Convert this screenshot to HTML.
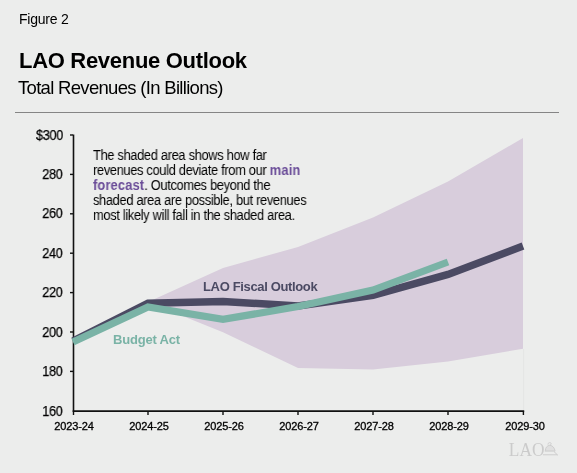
<!DOCTYPE html>
<html><head><meta charset="utf-8">
<style>
html,body{margin:0;padding:0;}
body{width:577px;height:473px;background:#ECEDEC;position:relative;overflow:hidden;font-family:"Liberation Sans",sans-serif;color:#000;}
.t{position:absolute;white-space:nowrap;line-height:1;will-change:transform;}
#fig{left:19px;top:12px;font-size:14px;letter-spacing:-0.22px;}
#title{left:18.5px;top:49.5px;font-size:22px;font-weight:bold;letter-spacing:-0.3px;}
#sub{left:18px;top:79px;font-size:18.5px;letter-spacing:-0.69px;}
#rule{position:absolute;left:15px;top:112px;width:544px;height:1px;background:#858585;}
svg{position:absolute;left:0;top:0;will-change:transform;}
.note{left:92.5px;top:147.9px;font-size:14px;line-height:15px;letter-spacing:-0.4px;word-spacing:0.2px;transform:scaleX(0.92);transform-origin:0 0;}
.note b{color:#6A4C98;letter-spacing:0.15px;}
.yl{position:absolute;will-change:transform;transform:scaleX(0.9);transform-origin:100% 50%;right:514.1px;-webkit-text-stroke:0.25px #000;font-size:14px;letter-spacing:-0.25px;line-height:1;text-align:right;}
.xl{position:absolute;will-change:transform;-webkit-text-stroke:0.3px #000;width:80px;font-size:11px;letter-spacing:-0.15px;line-height:1;text-align:center;}
.lab{position:absolute;will-change:transform;white-space:nowrap;font-weight:bold;font-size:13px;line-height:1;}
</style></head><body>
<div class="t" id="fig">Figure 2</div>
<div class="t" id="title">LAO Revenue Outlook</div>
<div class="t" id="sub">Total Revenues (In Billions)</div>
<div id="rule"></div>
<svg width="577" height="473" viewBox="0 0 577 473">
  <polygon fill="#D8CDDC" points="148,302 223,268 298,247 373,217.5 448,181.5 523,138 523,348.8 448,361.6 373,369.6 298,368 223,332.3 148,302"/>
  <line x1="523.6" y1="349" x2="523.6" y2="410" stroke="#E4E5E4" stroke-width="1"/>
  <g stroke="#111" stroke-width="1.6" fill="none">
    <line x1="73.5" y1="134.5" x2="73.5" y2="411.6"/>
    <line x1="72.7" y1="411.1" x2="524.2" y2="411.1"/>
  </g>
  <g stroke="#111" stroke-width="1.4">
    <line x1="70" y1="135" x2="73" y2="135"/>
    <line x1="70" y1="174.4" x2="73" y2="174.4"/>
    <line x1="70" y1="213.8" x2="73" y2="213.8"/>
    <line x1="70" y1="253.2" x2="73" y2="253.2"/>
    <line x1="70" y1="292.6" x2="73" y2="292.6"/>
    <line x1="70" y1="332" x2="73" y2="332"/>
    <line x1="70" y1="371.4" x2="73" y2="371.4"/>
    <line x1="73.5" y1="411" x2="73.5" y2="415"/>
    <line x1="148" y1="411" x2="148" y2="415"/>
    <line x1="223" y1="411" x2="223" y2="415"/>
    <line x1="298" y1="411" x2="298" y2="415"/>
    <line x1="373" y1="411" x2="373" y2="415"/>
    <line x1="448" y1="411" x2="448" y2="415"/>
    <line x1="523.4" y1="411" x2="523.4" y2="415"/>
  </g>
  <polyline fill="none" stroke="#4B4A63" stroke-width="7.5" stroke-linejoin="miter" points="73,341 148,303.3 223,301.5 298,306 373,295.4 448,274.4 523,246"/>
  <polyline fill="none" stroke="#7AB3A6" stroke-width="7.2" stroke-linejoin="miter" points="73,341.9 148,306.9 223,319.4 298,306.5 373,290 448,262"/>
  <g transform="translate(508.8,455.8) scale(0.89,1)"><text x="0" y="0" font-family="Liberation Serif" font-size="19.5" fill="#CBCBCB">LAO</text></g>
  <g fill="none" stroke="#CBCBCB">
    <path d="M548,444.6 C547.8,442.6 550.6,441.8 551.2,443.6 C551.4,444.4 550.6,444.9 549.8,445" stroke-width="0.9"/>
    <path d="M545.4,450.8 C545.4,447.6 547,445.6 549.8,445.3 C552.8,445.6 554.4,447.8 555,450.8" stroke-width="0.9" fill="#E0E0E0"/>
    <path d="M544.8,451 L555.2,451" stroke-width="1.1"/>
    <path d="M554,451.6 L557.6,455" stroke-width="0.9"/>
    <path d="M543,454.8 L557.6,454.8" stroke-width="0.9"/>
  </g>
</svg>
<div class="yl" style="top:127.5px">$300</div>
<div class="yl" style="top:166.9px">280</div>
<div class="yl" style="top:206.3px">260</div>
<div class="yl" style="top:245.7px">240</div>
<div class="yl" style="top:285.1px">220</div>
<div class="yl" style="top:324.5px">200</div>
<div class="yl" style="top:363.9px">180</div>
<div class="yl" style="top:403.5px">160</div>
<div class="xl" style="left:34px;top:421px">2023-24</div>
<div class="xl" style="left:109px;top:421px">2024-25</div>
<div class="xl" style="left:184px;top:421px">2025-26</div>
<div class="xl" style="left:259px;top:421px">2026-27</div>
<div class="xl" style="left:334px;top:421px">2027-28</div>
<div class="xl" style="left:409px;top:421px">2028-29</div>
<div class="xl" style="left:485px;top:421px">2029-30</div>
<div class="lab" style="left:203px;top:280px;color:#4B4A63;letter-spacing:-0.35px">LAO Fiscal Outlook</div>
<div class="lab" style="left:113px;top:333px;color:#7AB3A6;letter-spacing:-0.19px">Budget Act</div>
<div class="t note">The shaded area shows how far<br>revenues could deviate from our <b>main</b><br><b>forecast</b>. Outcomes beyond the<br>shaded area are possible, but revenues<br>most likely will fall in the shaded area.</div>
</body></html>
